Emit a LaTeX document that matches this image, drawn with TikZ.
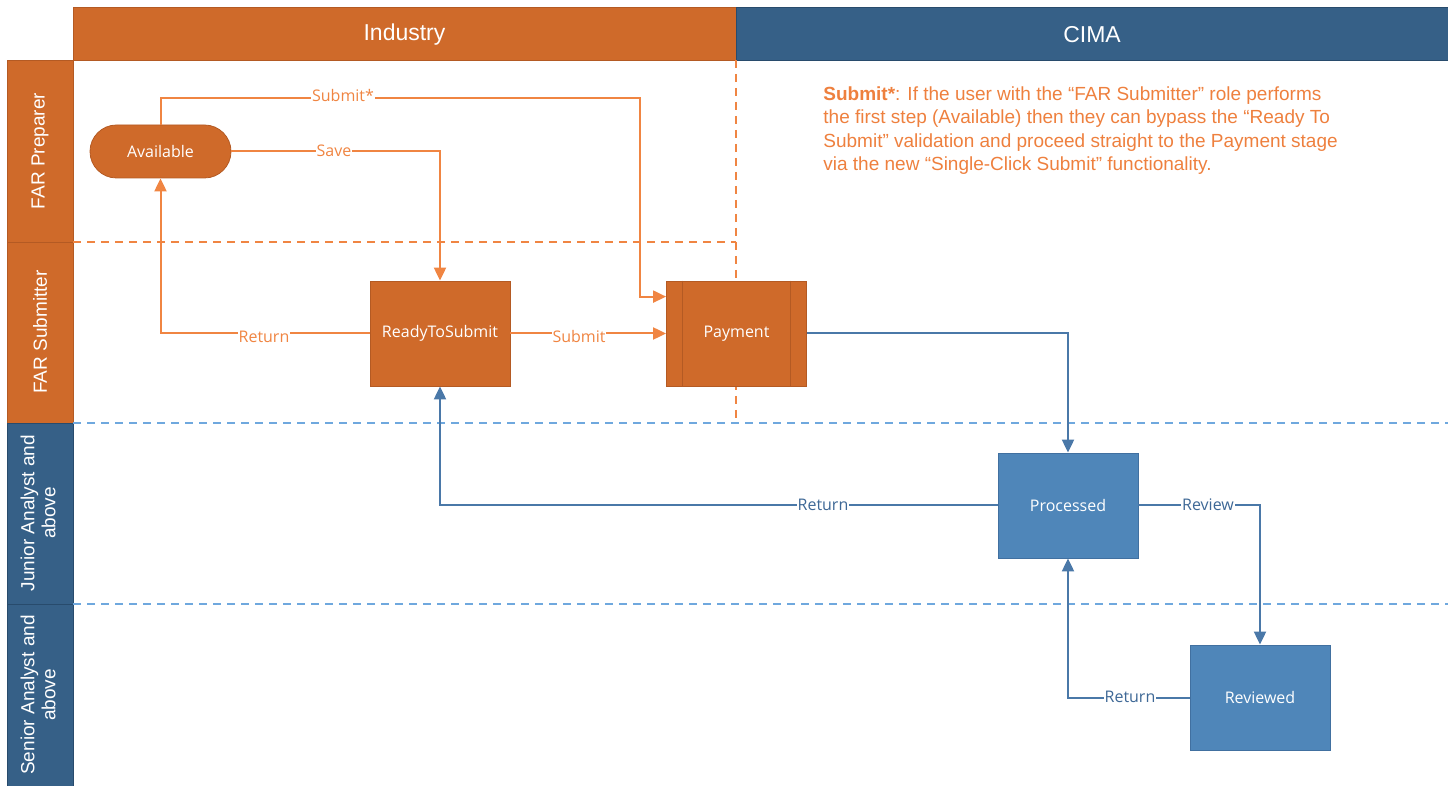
\documentclass[tikz,border=0pt]{standalone}
\usepackage{fontspec}
\setmainfont{Liberation Sans}
\newfontfamily\nodefont{Open Sans}
\usetikzlibrary{arrows.meta,calc}
\definecolor{oHead}{RGB}{207,106,42}
\definecolor{oHeadD}{RGB}{180,90,35}
\definecolor{oLine}{RGB}{240,133,66}
\definecolor{oText}{RGB}{238,128,62}
\definecolor{bHead}{RGB}{54,96,135}
\definecolor{bHeadD}{RGB}{40,75,108}
\definecolor{bNode}{RGB}{79,134,185}
\definecolor{bNodeD}{RGB}{65,112,160}
\definecolor{bLine}{RGB}{74,120,168}
\definecolor{bText}{RGB}{62,104,150}
\definecolor{bDash}{RGB}{111,168,222}
\begin{document}
\begin{tikzpicture}[x=0.5pt,y=-0.5pt,
  hdrtext/.style={text=white,font=\fontsize{11.5}{13}\selectfont},
  lanetext/.style={text=white,rotate=90,align=center,font=\fontsize{9.5}{10.5}\selectfont},
  obox/.style={draw=oHeadD,line width=0.4pt,fill=oHead,text=white,minimum width=70pt,minimum height=52.5pt,font=\nodefont\fontsize{8}{10}\selectfont,inner sep=0pt},
  bbox/.style={draw=bNodeD,line width=0.4pt,fill=bNode,text=white,minimum width=70pt,minimum height=52.5pt,font=\nodefont\fontsize{8}{10}\selectfont,inner sep=0pt},
  oarr/.style={draw=oLine,line width=1pt,-{Triangle[length=6.5pt,width=6pt]}},
  barr/.style={draw=bLine,line width=1pt,-{Triangle[length=6.5pt,width=6pt]}},
  olab/.style={fill=white,text=oLine,inner sep=0.5pt,font=\nodefont\fontsize{8}{10}\selectfont},
  blab/.style={fill=white,text=bText,inner sep=0.5pt,font=\nodefont\fontsize{8}{10}\selectfont},
  odash/.style={draw=oLine,line width=0.8pt,dash pattern=on 4pt off 3pt},
  bdash/.style={draw=bDash,line width=0.8pt,dash pattern=on 4pt off 3pt}]
\useasboundingbox (0,0) rectangle (1448,786);
% headers
\path[fill=oHead,draw=oHeadD,line width=0.3pt] (73,7) rectangle (736,60);
\path[fill=bHead,draw=bHeadD,line width=0.3pt] (736,7) rectangle (1448,60);
\node[hdrtext] (hInd) at (404.5,34.5) {Industry};
\node[hdrtext] (hCima) at (1092,34.5) {CIMA};
% lanes
\path[fill=oHead,draw=oHeadD,line width=0.4pt] (7,60) rectangle (73,242);
\path[fill=oHead,draw=oHeadD,line width=0.4pt] (7,242) rectangle (73,423);
\path[fill=bHead,draw=bHeadD,line width=0.4pt] (7,423) rectangle (73,604);
\path[fill=bHead,draw=bHeadD,line width=0.4pt] (7,604) rectangle (73,786);
\node[lanetext] (lFP) at (40,151) {FAR Preparer};
\node[lanetext] (lFS) at (40,332) {FAR Submitter};
\node[lanetext] (lJA) at (38,513) {Junior Analyst and\\above};
\node[lanetext] (lSA) at (38,695) {Senior Analyst and\\above};
% dashed separators
\draw[odash] (73,242) -- (736,242);
\draw[odash] (736,60) -- (736,423);
\draw[bdash] (73,423) -- (1448,423);
\draw[bdash] (73,604) -- (1448,604);
% nodes
\node[obox,minimum width=70.5pt,minimum height=26.5pt,rounded corners=13.25pt] (avail) at (160.5,151.5) {Available};
\node[obox] (rts) at (440,333.5) {ReadyToSubmit};
\node[obox] (pay) at (736.5,333.5) {Payment};
\draw[oHeadD,line width=0.4pt] ($(pay.north west)+(16,0)$) -- ($(pay.south west)+(16,0)$);
\draw[oHeadD,line width=0.4pt] ($(pay.north east)+(-17,0)$) -- ($(pay.south east)+(-17,0)$);
\node[bbox] (proc) at (1068,505.5) {Processed};
\node[bbox] (rev) at (1260,697.5) {Reviewed};
% note
\node[anchor=north west,inner sep=0pt,align=left,text=oText,font=\fontsize{9.5}{11.75}\selectfont] (note) at (823,86)
{\textbf{Submit*}: If the user with the “FAR Submitter” role performs\\
the first step (Available) then they can bypass the “Ready To\\
Submit” validation and proceed straight to the Payment stage\\
via the new “Single-Click Submit” functionality.};
% connectors
\coordinate (cS1) at (640,98);
\draw[oarr] (avail.north) |- (cS1) |- ($(pay.north west)+(0,16)$);
\node[olab] (lbSubStar) at (343,96) {Submit*};
\draw[oarr] (avail.east) -| (rts.north);
\node[olab] (lbSave) at (334,151) {Save};
\draw[oarr] (rts.west) -| (avail.south);
\node[olab] (lbRet1) at (264,337) {Return};
\draw[oarr] (rts.east) -- (pay.west);
\node[olab] (lbSub) at (579,337) {Submit};
\draw[barr] (pay.east) -| (proc.north);
\draw[barr] (proc.west) -| (rts.south);
\node[blab] (lbRet2) at (823,505) {Return};
\draw[barr] (proc.east) -| (rev.north);
\node[blab] (lbRev) at (1208,505) {Review};
\draw[barr] (rev.west) -| (proc.south);
\node[blab] (lbRet3) at (1130,697) {Return};
\end{tikzpicture}
\end{document}
